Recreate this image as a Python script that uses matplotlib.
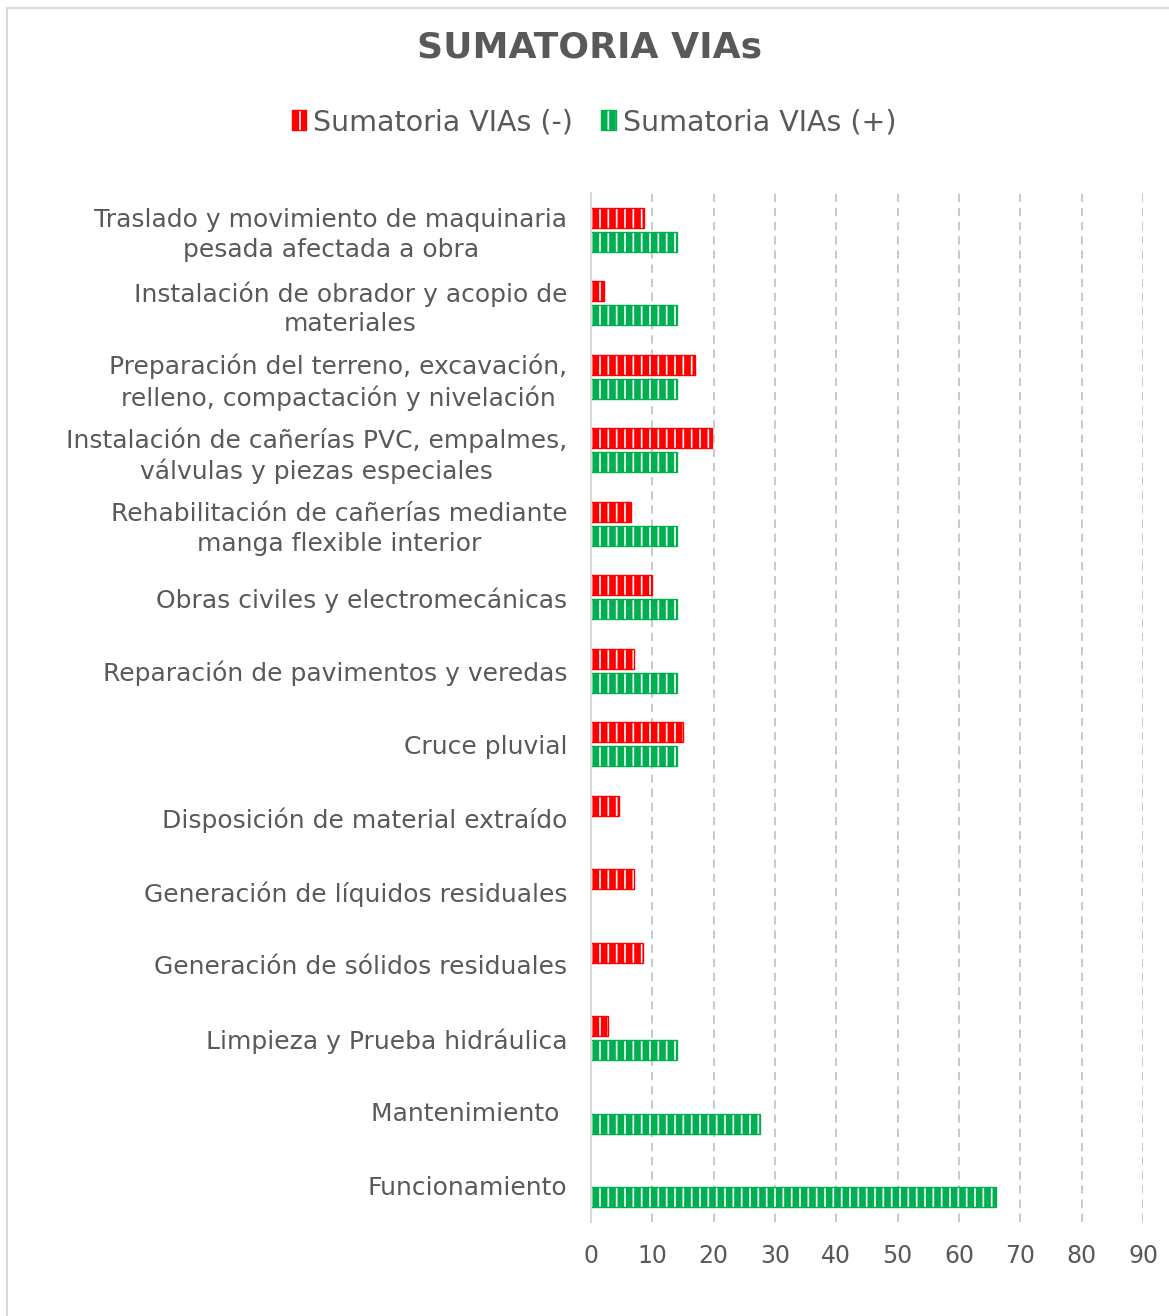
import numpy as np
import matplotlib
matplotlib.use("Agg")
import matplotlib.pyplot as plt
from matplotlib.patches import Rectangle, Patch

categories = [
    "Traslado y movimiento de maquinaria\npesada afectada a obra",
    "Instalación de obrador y acopio de\nmateriales",
    "Preparación del terreno, excavación,\nrelleno, compactación y nivelación",
    "Instalación de cañerías PVC, empalmes,\nválvulas y piezas especiales",
    "Rehabilitación de cañerías mediante\nmanga flexible interior",
    "Obras civiles y electromecánicas",
    "Reparación de pavimentos y veredas",
    "Cruce pluvial",
    "Disposición de material extraído",
    "Generación de líquidos residuales",
    "Generación de sólidos residuales",
    "Limpieza y Prueba hidráulica",
    "Mantenimiento ",
    "Funcionamiento",
]
vias_neg = [8.7, 2.2, 17, 19.8, 6.6, 10, 7, 15, 4.6, 7, 8.5, 2.7, 0, 0]
vias_pos = [14, 14, 14, 14, 14, 14, 14, 14, 0, 0, 0, 14, 27.6, 66]
x_ticks = [0, 10, 20, 30, 40, 50, 60, 70, 80, 90]

TEXT = "#595959"
RED = "#FF0000"
GREEN = "#00B050"

plt.rcParams["font.family"] = ["DejaVu Sans"]
plt.rcParams["hatch.linewidth"] = 4.8

W, H = 1169, 1316
fig = plt.figure(figsize=(W / 100, H / 100), dpi=100)
fig.patch.set_facecolor("white")

# outer chart frame
fig.patches.append(Rectangle((7 / W, -0.01), 1.1, 1 - 8 / H + 0.01,
                             transform=fig.transFigure, fill=False,
                             edgecolor="#d9d9d9", linewidth=1.5))

ax = fig.add_axes([591 / W, 1 - 1222 / H, (1143 - 591) / W, (1222 - 193) / H])

n = len(categories)
y = np.arange(n)
neg = np.array(vias_neg, dtype=float)
pos = np.array(vias_pos, dtype=float)
off, h = 0.165, 0.275

mn = neg > 0
ax.barh(y[mn] - off, neg[mn], height=h, color="white", edgecolor=RED,
        hatch="||", linewidth=1.0, zorder=3)
mp = pos > 0
ax.barh(y[mp] + off, pos[mp], height=h, color="white", edgecolor=GREEN,
        hatch="||", linewidth=1.0, zorder=3)

ax.set_xlim(0, 90)
ax.set_ylim(n - 0.5, -0.5)
ax.set_xticks(x_ticks)
ax.set_xticklabels([str(t) for t in x_ticks])
ax.set_yticks(y)
ax.set_yticklabels(categories, ha="right", multialignment="center")
ax.tick_params(axis="x", length=0, pad=16, labelsize=17, colors=TEXT)
ax.tick_params(axis="y", length=0, pad=17, labelsize=18, colors=TEXT)
for lbl in ax.get_yticklabels():
    lbl.set_linespacing(1.3)

ax.grid(axis="x", color="#bfbfbf", linestyle=(0, (5, 3.5)), linewidth=1.2, zorder=0)
ax.set_axisbelow(True)
for s in ["top", "right", "bottom"]:
    ax.spines[s].set_visible(False)
ax.spines["left"].set_color("#d9d9d9")
ax.spines["left"].set_linewidth(1.5)
ax.spines["left"].set_zorder(4)

fig.text(590 / W, 1 - 48 / H, "SUMATORIA VIAs", ha="center", va="center",
         fontsize=26, fontweight="bold", color=TEXT)

handles = [
    Patch(facecolor="white", edgecolor=RED, hatch="||", linewidth=1.0, label="Sumatoria VIAs (-)"),
    Patch(facecolor="white", edgecolor=GREEN, hatch="||", linewidth=1.0, label="Sumatoria VIAs (+)"),
]
fig.legend(handles=handles, loc="center", bbox_to_anchor=(594 / W, 1 - 122 / H),
           ncol=2, frameon=False, fontsize=20.5, labelcolor=TEXT,
           handlelength=0.5, handleheight=0.7, handletextpad=0.25,
           columnspacing=1.0)

fig.savefig("out.png", dpi=100, facecolor="white")
